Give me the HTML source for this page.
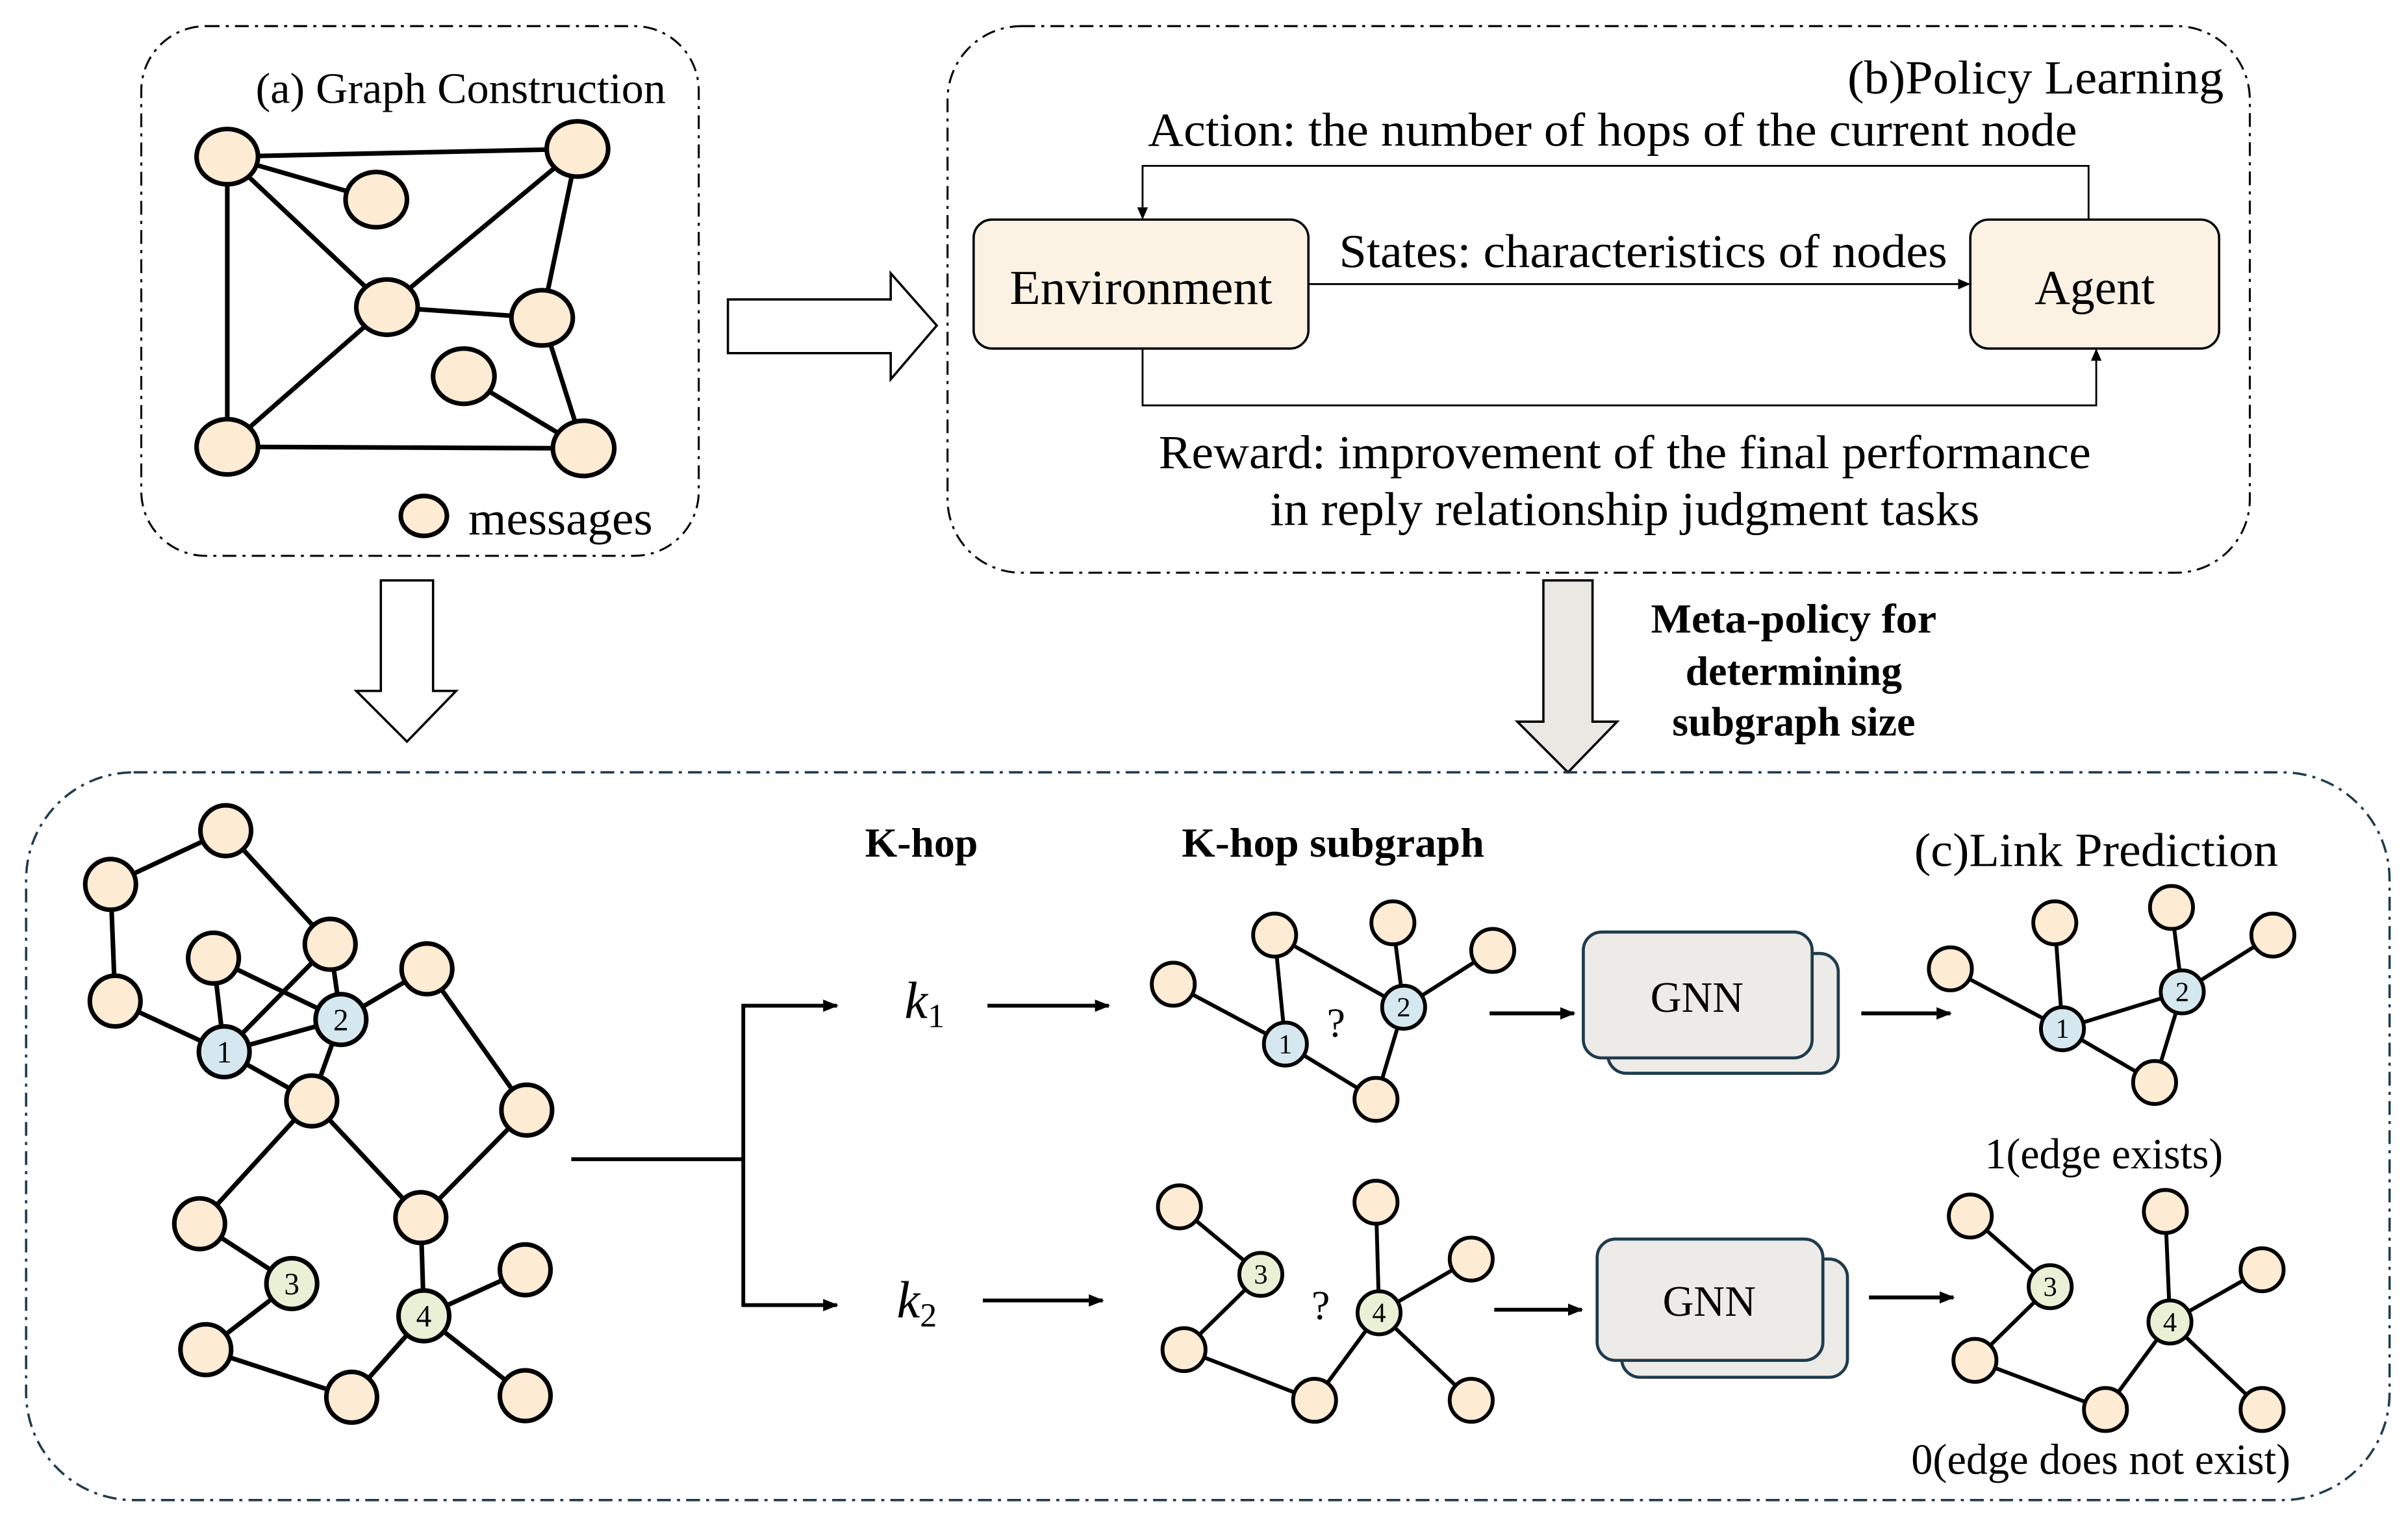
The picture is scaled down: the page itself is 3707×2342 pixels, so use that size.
<!DOCTYPE html>
<html><head><meta charset="utf-8"><style>html,body{margin:0;padding:0;background:#fff}svg{display:block}</style></head>
<body>
<svg xmlns="http://www.w3.org/2000/svg" width="3707" height="2342" viewBox="0 0 1568 990.6" font-family="Liberation Serif, serif">
<defs>
<marker id="ah" markerWidth="10" markerHeight="10" refX="9" refY="5" orient="auto" markerUnits="userSpaceOnUse"><path d="M0,1 L10,5 L0,9 z" fill="#000"/></marker>
<marker id="as" markerWidth="8" markerHeight="8" refX="7" refY="4" orient="auto" markerUnits="userSpaceOnUse"><path d="M0,0.5 L8,4 L0,7.5 z" fill="#000"/></marker>
</defs>
<!-- Panel a -->
<rect x="92" y="17" width="363" height="345" rx="42" fill="none" stroke="#000" stroke-width="1.3" stroke-dasharray="9,4,2,4"/>
<text x="300" y="67" font-size="28" text-anchor="middle" textLength="267" lengthAdjust="spacingAndGlyphs">(a) Graph Construction</text>
<g stroke="#000" stroke-width="3">
<line x1="148" y1="102" x2="376" y2="97"/><line x1="148" y1="102" x2="245" y2="130"/><line x1="148" y1="102" x2="252" y2="200"/>
<line x1="148" y1="102" x2="148" y2="291"/><line x1="376" y1="97" x2="252" y2="200"/><line x1="376" y1="97" x2="353" y2="207"/>
<line x1="252" y1="200" x2="148" y2="291"/><line x1="252" y1="200" x2="353" y2="207"/><line x1="353" y1="207" x2="380" y2="292"/>
<line x1="302" y1="245" x2="380" y2="292"/><line x1="148" y1="291" x2="380" y2="292"/>
</g>
<g fill="#fdebd3" stroke="#000" stroke-width="3">
<ellipse cx="148" cy="102" rx="20" ry="18"/><ellipse cx="245" cy="130" rx="20" ry="18"/><ellipse cx="376" cy="97" rx="20" ry="18"/>
<ellipse cx="252" cy="200" rx="20" ry="18"/><ellipse cx="353" cy="207" rx="20" ry="18"/><ellipse cx="302" cy="245" rx="20" ry="18"/>
<ellipse cx="148" cy="291" rx="20" ry="18"/><ellipse cx="380" cy="292" rx="20" ry="18"/>
<ellipse cx="276" cy="336" rx="15" ry="13"/>
</g>
<text x="305" y="348" font-size="31" textLength="120" lengthAdjust="spacingAndGlyphs">messages</text>
<!-- arrow right -->
<path d="M474,195 L580,195 L580,178 L610,212 L580,247 L580,230 L474,230 Z" fill="#fff" stroke="#000" stroke-width="1.5"/>
<!-- Panel b -->
<rect x="617" y="17" width="848" height="356" rx="48" fill="none" stroke="#000" stroke-width="1.3" stroke-dasharray="9,4,2,4"/>
<text x="1448" y="61" font-size="31" text-anchor="end" textLength="245" lengthAdjust="spacingAndGlyphs">(b)Policy Learning</text>
<text x="1050" y="95" font-size="31" text-anchor="middle" textLength="605" lengthAdjust="spacingAndGlyphs">Action: the number of hops of the current node</text>
<rect x="634" y="143" width="218" height="84" rx="12" fill="#fbf2e4" stroke="#000" stroke-width="1.5"/>
<text x="743" y="198" font-size="32" text-anchor="middle" textLength="171" lengthAdjust="spacingAndGlyphs">Environment</text>
<rect x="1283" y="143" width="162" height="84" rx="12" fill="#fbf2e4" stroke="#000" stroke-width="1.5"/>
<text x="1364" y="198" font-size="32" text-anchor="middle">Agent</text>
<polyline points="1360,143 1360,108 744,108 744,142" fill="none" stroke="#000" stroke-width="1.2" marker-end="url(#as)"/>
<line x1="852" y1="185" x2="1282" y2="185" stroke="#000" stroke-width="1.2" marker-end="url(#as)"/>
<text x="1070" y="174" font-size="31" text-anchor="middle" textLength="396" lengthAdjust="spacingAndGlyphs">States: characteristics of nodes</text>
<polyline points="744,227 744,264 1365,264 1365,228" fill="none" stroke="#000" stroke-width="1.2" marker-end="url(#as)"/>
<text x="1058" y="305" font-size="31" text-anchor="middle" textLength="607" lengthAdjust="spacingAndGlyphs">Reward: improvement of the final performance</text>
<text x="1058" y="342" font-size="31" text-anchor="middle" textLength="462" lengthAdjust="spacingAndGlyphs">in reply relationship judgment tasks</text>
<!-- down arrows -->
<path d="M248,378 L282,378 L282,450 L297,450 L265,483 L232,450 L248,450 Z" fill="#fff" stroke="#000" stroke-width="1.5"/>
<path d="M1005,378 L1037,378 L1037,470 L1053,470 L1021,503 L988,470 L1005,470 Z" fill="#e9e8e3" stroke="#000" stroke-width="1.5"/>
<g font-size="27" font-weight="bold" text-anchor="middle">
<text x="1168" y="412" textLength="186" lengthAdjust="spacingAndGlyphs">Meta-policy for</text><text x="1168" y="446">determining</text><text x="1168" y="479">subgraph size</text>
</g>
<!-- Panel c -->
<rect x="17" y="503" width="1539" height="474" rx="70" fill="none" stroke="#1f3b4d" stroke-width="1.5" stroke-dasharray="9,4,2,4"/>
<g stroke="#000" stroke-width="3">
<line x1="147" y1="541" x2="72" y2="576"/><line x1="147" y1="541" x2="215" y2="615"/><line x1="72" y1="576" x2="75" y2="652"/>
<line x1="75" y1="652" x2="146" y2="685"/><line x1="139" y1="624" x2="146" y2="685"/><line x1="139" y1="624" x2="222" y2="664"/>
<line x1="215" y1="615" x2="146" y2="685"/><line x1="215" y1="615" x2="222" y2="664"/><line x1="146" y1="685" x2="222" y2="664"/>
<line x1="146" y1="685" x2="203" y2="717"/><line x1="222" y1="664" x2="203" y2="717"/><line x1="222" y1="664" x2="278" y2="631"/>
<line x1="278" y1="631" x2="343" y2="723"/><line x1="343" y1="723" x2="274" y2="793"/><line x1="203" y1="717" x2="130" y2="797"/>
<line x1="203" y1="717" x2="274" y2="793"/><line x1="130" y1="797" x2="190" y2="836"/><line x1="190" y1="836" x2="134" y2="879"/>
<line x1="134" y1="879" x2="229" y2="910"/><line x1="229" y1="910" x2="276" y2="857"/><line x1="274" y1="793" x2="276" y2="857"/>
<line x1="276" y1="857" x2="342" y2="827"/><line x1="276" y1="857" x2="342" y2="909"/>
</g>
<g fill="#fdebd3" stroke="#000" stroke-width="3">
<circle cx="147" cy="541" r="16.5"/><circle cx="72" cy="576" r="16.5"/><circle cx="75" cy="652" r="16.5"/><circle cx="139" cy="624" r="16.5"/>
<circle cx="215" cy="615" r="16.5"/><circle cx="278" cy="631" r="16.5"/><circle cx="203" cy="717" r="16.5"/><circle cx="343" cy="723" r="16.5"/>
<circle cx="130" cy="797" r="16.5"/><circle cx="274" cy="793" r="16.5"/><circle cx="342" cy="827" r="16.5"/><circle cx="134" cy="879" r="16.5"/>
<circle cx="229" cy="910" r="16.5"/><circle cx="342" cy="909" r="16.5"/>
</g>
<g stroke="#000" stroke-width="3"><circle cx="146" cy="685" r="16.5" fill="#d5e8f0"/><circle cx="222" cy="664" r="16.5" fill="#d5e8f0"/>
<circle cx="190" cy="836" r="16.5" fill="#eaf0d6"/><circle cx="276" cy="857" r="16.5" fill="#eaf0d6"/></g>
<g font-size="20" text-anchor="middle"><text x="146" y="692">1</text><text x="222" y="671">2</text><text x="190" y="843">3</text><text x="276" y="864">4</text></g>
<!-- branch -->
<g stroke="#000" stroke-width="2.5" fill="none">
<line x1="372" y1="755" x2="484" y2="755"/><line x1="484" y1="654" x2="484" y2="851"/>
<line x1="483" y1="655" x2="545" y2="655" marker-end="url(#ah)"/><line x1="483" y1="850" x2="545" y2="850" marker-end="url(#ah)"/>
<line x1="643" y1="655" x2="722" y2="655" marker-end="url(#ah)"/><line x1="640" y1="847" x2="718" y2="847" marker-end="url(#ah)"/>
<line x1="970" y1="660" x2="1025" y2="660" marker-end="url(#ah)"/><line x1="1212" y1="660" x2="1270" y2="660" marker-end="url(#ah)"/>
<line x1="973" y1="853" x2="1030" y2="853" marker-end="url(#ah)"/><line x1="1217" y1="845" x2="1272" y2="845" marker-end="url(#ah)"/>
</g>
<text x="602" y="663" font-size="34" font-style="italic" text-anchor="middle">k<tspan font-size="22" dy="6" font-style="normal">1</tspan></text>
<text x="597" y="858" font-size="34" font-style="italic" text-anchor="middle">k<tspan font-size="22" dy="6" font-style="normal">2</tspan></text>
<text x="600" y="558" font-size="27" font-weight="bold" text-anchor="middle">K-hop</text>
<text x="868" y="558" font-size="27" font-weight="bold" text-anchor="middle" textLength="197" lengthAdjust="spacingAndGlyphs">K-hop subgraph</text>
<text x="1365" y="564" font-size="31" text-anchor="middle" textLength="237" lengthAdjust="spacingAndGlyphs">(c)Link Prediction</text>
<!-- GNN boxes -->
<rect x="1047" y="621" width="150" height="78" rx="12" fill="#ecebe7" stroke="#1f3b4d" stroke-width="2"/>
<rect x="1031" y="607" width="149" height="82" rx="12" fill="#ecebe7" stroke="#1f3b4d" stroke-width="2"/>
<text x="1105" y="659" font-size="28" text-anchor="middle">GNN</text>
<rect x="1056" y="820" width="147" height="77" rx="12" fill="#ecebe7" stroke="#1f3b4d" stroke-width="2"/>
<rect x="1040" y="807" width="147" height="79" rx="12" fill="#ecebe7" stroke="#1f3b4d" stroke-width="2"/>
<text x="1113" y="857" font-size="28" text-anchor="middle">GNN</text>
<!-- subgraphs -->
<g stroke="#000" stroke-width="2.5">
<line x1="764" y1="641" x2="837" y2="680"/><line x1="830" y1="609" x2="837" y2="680"/><line x1="830" y1="609" x2="914" y2="656"/>
<line x1="907" y1="601" x2="914" y2="656"/><line x1="972" y1="619" x2="914" y2="656"/><line x1="914" y1="656" x2="896" y2="716"/><line x1="837" y1="680" x2="896" y2="716"/>
<line x1="1270" y1="631" x2="1343" y2="670"/><line x1="1338" y1="601" x2="1343" y2="670"/><line x1="1414" y1="591" x2="1421" y2="646"/>
<line x1="1480" y1="609" x2="1421" y2="646"/><line x1="1343" y1="670" x2="1421" y2="646"/><line x1="1421" y1="646" x2="1403" y2="705"/><line x1="1343" y1="670" x2="1403" y2="705"/>
<line x1="768" y1="786" x2="821" y2="830"/><line x1="821" y1="830" x2="771" y2="879"/><line x1="771" y1="879" x2="856" y2="912"/>
<line x1="856" y1="912" x2="898" y2="855"/><line x1="896" y1="783" x2="898" y2="855"/><line x1="958" y1="820" x2="898" y2="855"/><line x1="958" y1="912" x2="898" y2="855"/>
<line x1="1283" y1="792" x2="1335" y2="838"/><line x1="1335" y1="838" x2="1286" y2="886"/><line x1="1286" y1="886" x2="1371" y2="918"/>
<line x1="1371" y1="918" x2="1413" y2="861"/><line x1="1410" y1="789" x2="1413" y2="861"/><line x1="1473" y1="827" x2="1413" y2="861"/><line x1="1473" y1="918" x2="1413" y2="861"/>
</g>
<g fill="#fdebd3" stroke="#000" stroke-width="2.5">
<ellipse cx="764" cy="641" rx="14" ry="14"/><ellipse cx="830" cy="609" rx="14" ry="14"/><ellipse cx="907" cy="601" rx="14" ry="14"/><ellipse cx="972" cy="619" rx="14" ry="14"/><ellipse cx="896" cy="716" rx="14" ry="14"/>
<ellipse cx="1270" cy="631" rx="14" ry="14"/><ellipse cx="1338" cy="601" rx="14" ry="14"/><ellipse cx="1414" cy="591" rx="14" ry="14"/><ellipse cx="1480" cy="609" rx="14" ry="14"/><ellipse cx="1403" cy="705" rx="14" ry="14"/>
<ellipse cx="768" cy="786" rx="14" ry="14"/><ellipse cx="771" cy="879" rx="14" ry="14"/><ellipse cx="896" cy="783" rx="14" ry="14"/><ellipse cx="958" cy="820" rx="14" ry="14"/><ellipse cx="856" cy="912" rx="14" ry="14"/><ellipse cx="958" cy="912" rx="14" ry="14"/>
<ellipse cx="1283" cy="792" rx="14" ry="14"/><ellipse cx="1286" cy="886" rx="14" ry="14"/><ellipse cx="1410" cy="789" rx="14" ry="14"/><ellipse cx="1473" cy="827" rx="14" ry="14"/><ellipse cx="1371" cy="918" rx="14" ry="14"/><ellipse cx="1473" cy="918" rx="14" ry="14"/>
</g>
<g stroke="#000" stroke-width="2.5">
<circle cx="837" cy="680" r="14" fill="#d5e8f0"/><circle cx="914" cy="656" r="14" fill="#d5e8f0"/>
<circle cx="1343" cy="670" r="14" fill="#d5e8f0"/><circle cx="1421" cy="646" r="14" fill="#d5e8f0"/>
<circle cx="821" cy="830" r="14" fill="#eaf0d6"/><circle cx="898" cy="855" r="14" fill="#eaf0d6"/>
<circle cx="1335" cy="838" r="14" fill="#eaf0d6"/><circle cx="1413" cy="861" r="14" fill="#eaf0d6"/>
</g>
<g font-size="18" text-anchor="middle">
<text x="837" y="686">1</text><text x="914" y="662">2</text><text x="1343" y="676">1</text><text x="1421" y="652">2</text>
<text x="821" y="836">3</text><text x="898" y="861">4</text><text x="1335" y="844">3</text><text x="1413" y="867">4</text>
</g>
<text x="870" y="675" font-size="27" text-anchor="middle">?</text>
<text x="860" y="859" font-size="27" text-anchor="middle">?</text>
<text x="1370" y="761" font-size="28" text-anchor="middle" textLength="155" lengthAdjust="spacingAndGlyphs">1(edge exists)</text>
<text x="1368" y="960" font-size="28" text-anchor="middle" textLength="247" lengthAdjust="spacingAndGlyphs">0(edge does not exist)</text>
</svg>
</body></html>
